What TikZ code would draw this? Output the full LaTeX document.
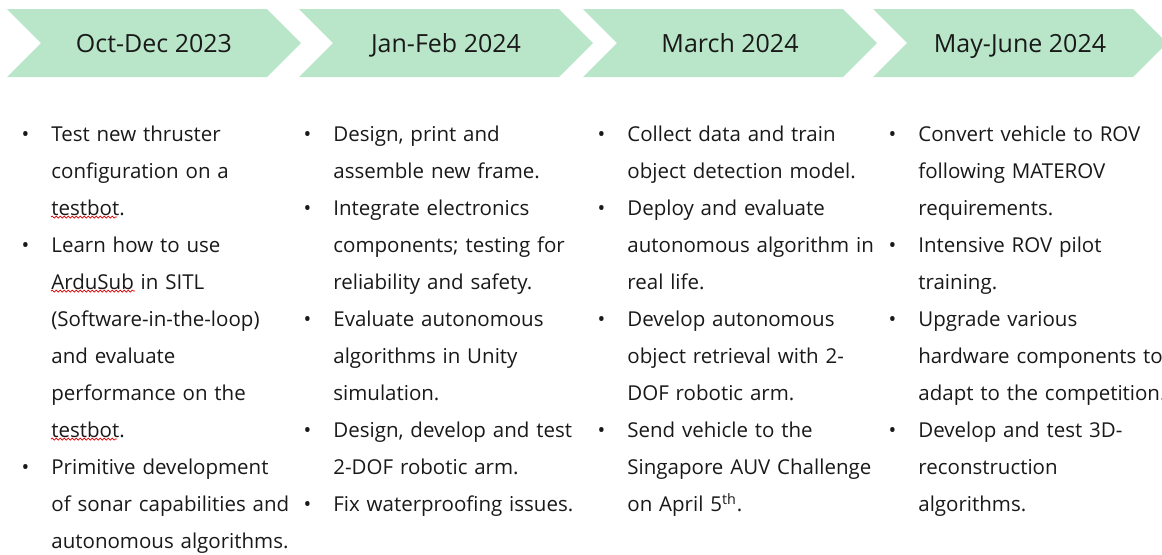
\documentclass[tikz,border=0pt]{standalone}
\usepackage{fontspec}
\setmainfont{Open Sans}
\usetikzlibrary{decorations.pathmorphing}
\definecolor{phasegreen}{RGB}{185,230,201}
% bullet hung in the left margin of a column
\newcommand\bul{\strut\llap{\textbullet\hspace{11pt}}}

\begin{document}
\begin{tikzpicture}[x=0.5pt,y=-0.5pt,phase/.style={fill=phasegreen},titel/.style={anchor=base,font=\fontsize{12.5}{15}\selectfont,text=black!90},taken/.style={anchor=north west,inner sep=0pt,text width=150pt,align=left,font=\fontsize{10.25}{18.5}\selectfont,text=black!90},spell/.style={draw=red!85!black,line width=0.35pt,decorate,decoration={snake,segment length=2pt,amplitude=0.5pt}}]
\useasboundingbox (0,0) rectangle (1162,554);
\foreach \l/\t [count=\i] in {7/Oct-Dec 2023,299/Jan-Feb 2024,583/March 2024,873/May-June 2024}{
\fill[phase] (\l,9) -- ++(260,0) -- ++(34,34) -- ++(-34,34) -- ++(-260,0) -- ++(34,-34) -- cycle;
\node[titel] (h\i) at (\l+147,52) {\t};}
\node[taken] (k1) at (51,115) {\bul Test new thruster\\configuration on a\\testbot.\\
\bul Learn how to use\\ArduSub in SITL\\(Software-in-the-loop)\\and evaluate\\performance on the\\testbot.\\
\bul Primitive development\\of sonar capabilities and\\autonomous algorithms.};
\node[taken] (k2) at (333,115) {\bul Design, print and\\assemble new frame.\\
\bul Integrate electronics\\components; testing for\\reliability and safety.\\
\bul Evaluate autonomous\\algorithms in Unity\\simulation.\\
\bul Design, develop and test\\2-DOF robotic arm.\\
\bul Fix waterproofing issues.};
\node[taken] (k3) at (627,115) {\bul Collect data and train\\object detection model.\\
\bul Deploy and evaluate\\autonomous algorithm in\\real life.\\
\bul Develop autonomous\\object retrieval with 2-\\DOF robotic arm.\\
\bul Send vehicle to the\\Singapore AUV Challenge\\on April 5\textsuperscript{th}.};
\node[taken] (k4) at (918,115) {\bul Convert vehicle to ROV\\following MATEROV\\requirements.\\
\bul Intensive ROV pilot\\training.\\
\bul Upgrade various\\hardware components to\\adapt to the competition.\\
\bul Develop and test 3D-\\reconstruction\\algorithms.};
% spell-check squiggles
\draw[spell] (51,217) -- (117,217);
\draw[spell] (51,291) -- (135,291);
\draw[spell] (51,439) -- (117,439);
\end{tikzpicture}
\end{document}
